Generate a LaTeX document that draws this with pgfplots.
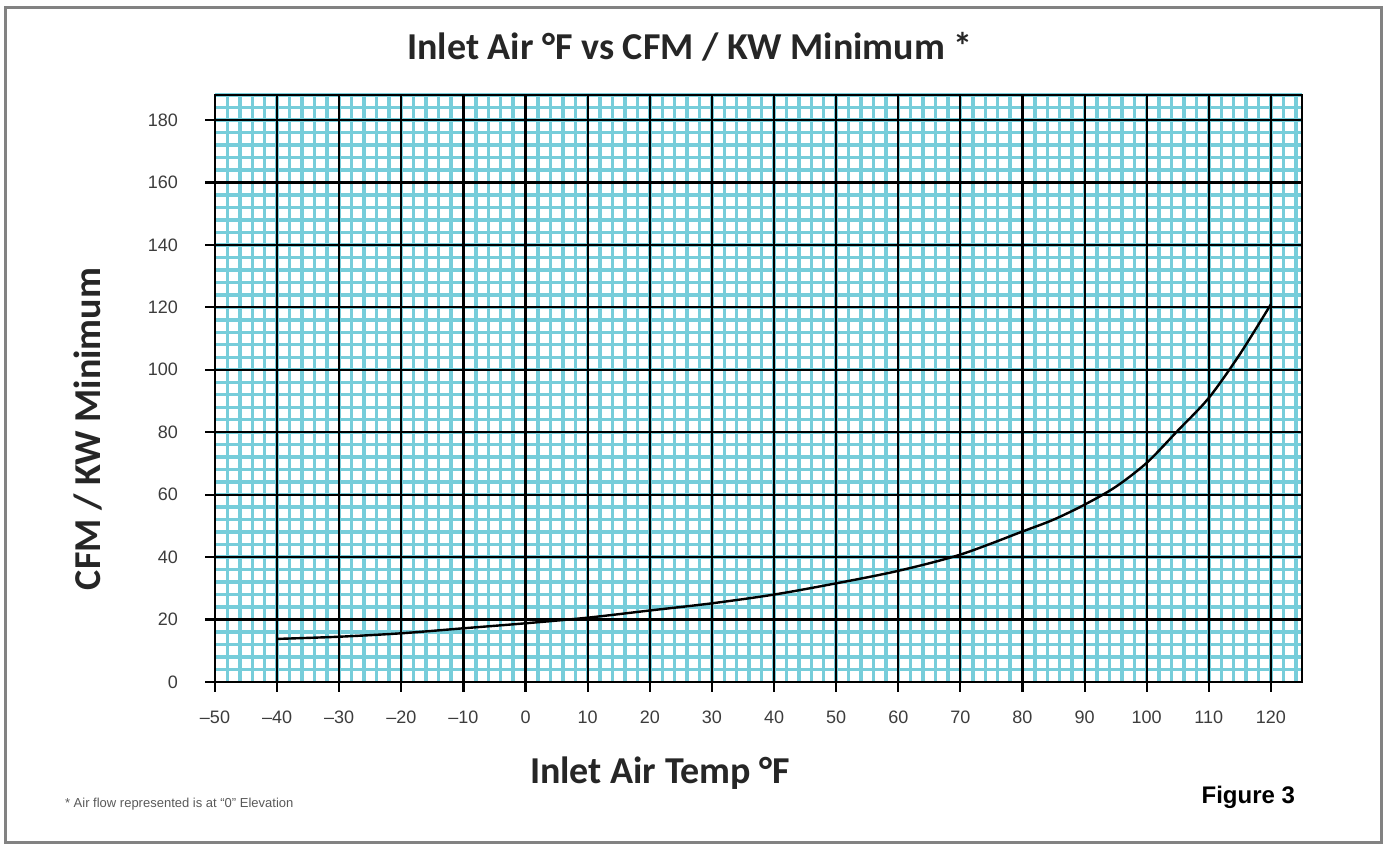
\documentclass[border=0pt]{standalone}
\usepackage{pgfplots}
\pgfplotsset{compat=1.18}
\usepackage{fontspec}
\setmainfont{Liberation Sans}
\newfontfamily\carlito{Carlito}
\definecolor{gridcyan}{RGB}{118,205,218}
\definecolor{ticktxt}{RGB}{60,60,60}
\definecolor{framegray}{RGB}{130,130,130}
\pgfplotsset{
  base/.style={
    at={(107.5pt,82pt)}, anchor=south west,
    scale only axis, width=543.5pt, height=293.5pt,
    xmin=-50, xmax=125, ymin=0, ymax=188,
  }
}
\begin{document}
\begin{tikzpicture}[x=1pt,y=1pt]
\useasboundingbox (0,0) rectangle (693.5,423);
\draw[framegray, line width=1.5pt] (2.5,1.5) rectangle (690.5,419);
% minor (cyan) grid layer
\begin{axis}[
  base,
  xtick={-50,-40,...,120}, ytick={0,20,...,180},
  xticklabels={}, yticklabels={},
  minor xtick={-48,-46,...,124},
  minor ytick={4,8,...,188},
  minor grid style={gridcyan, line width=1.7pt},
  xminorgrids=true, yminorgrids=true,
  xmajorgrids=false, ymajorgrids=false,
  major tick length=0pt,
  minor tick length=0pt,
  axis line style={draw=none},
]
\end{axis}
% major grid, ticks and curve
\begin{axis}[
  base,
  xtick={-50,-40,...,120},
  xticklabels={--50,--40,--30,--20,--10,0,10,20,30,40,50,60,70,80,90,100,110,120},
  ytick={0,20,...,180},
  grid=major,
  major grid style={black, line width=1.1pt},
  axis line style={black, line width=1.2pt},
  tick pos=left,
  tick align=outside,
  major tick length=5pt,
  tick style={black, line width=1.1pt},
  ticklabel style={font=\fontsize{9}{10}\selectfont, text=ticktxt},
  yticklabel style={xshift=-10pt},
  xticklabel style={yshift=-6pt},
  /pgf/number format/assume math mode=true,
]
\addplot[black, line width=1.2pt, smooth] coordinates {
(-40,13.8) (-30,14.5) (-20,15.6) (-10,17.2) (0,18.8) (10,20.6) (20,22.9)
(30,25.2) (40,28.0) (50,31.6) (60,35.6) (70,40.8) (80,48.2) (85,52.0)
(90,56.8) (95,62.5) (100,70.2) (105,80.5) (110,91.0) (115,105.0) (120,121.0)
};
\end{axis}
\node[font=\carlito\bfseries\fontsize{19}{23}\selectfont, text=black!85] at (345,399.5) {Inlet Air °F vs CFM / KW Minimum *};
\node[font=\carlito\bfseries\fontsize{19}{23}\selectfont, text=black!85, rotate=90] at (44,208.5) {CFM / KW Minimum};
\node[font=\carlito\bfseries\fontsize{19}{23}\selectfont, text=black!85] at (330,36.5) {Inlet Air Temp °F};
\node[font=\fontsize{6.5}{8}\selectfont, text=black!65, anchor=west] at (29,21) {* Air flow represented is at “0” Elevation};
\node[font=\bfseries\fontsize{12}{14}\selectfont, anchor=east] at (651,24.5) {Figure 3};
\end{tikzpicture}
\end{document}
